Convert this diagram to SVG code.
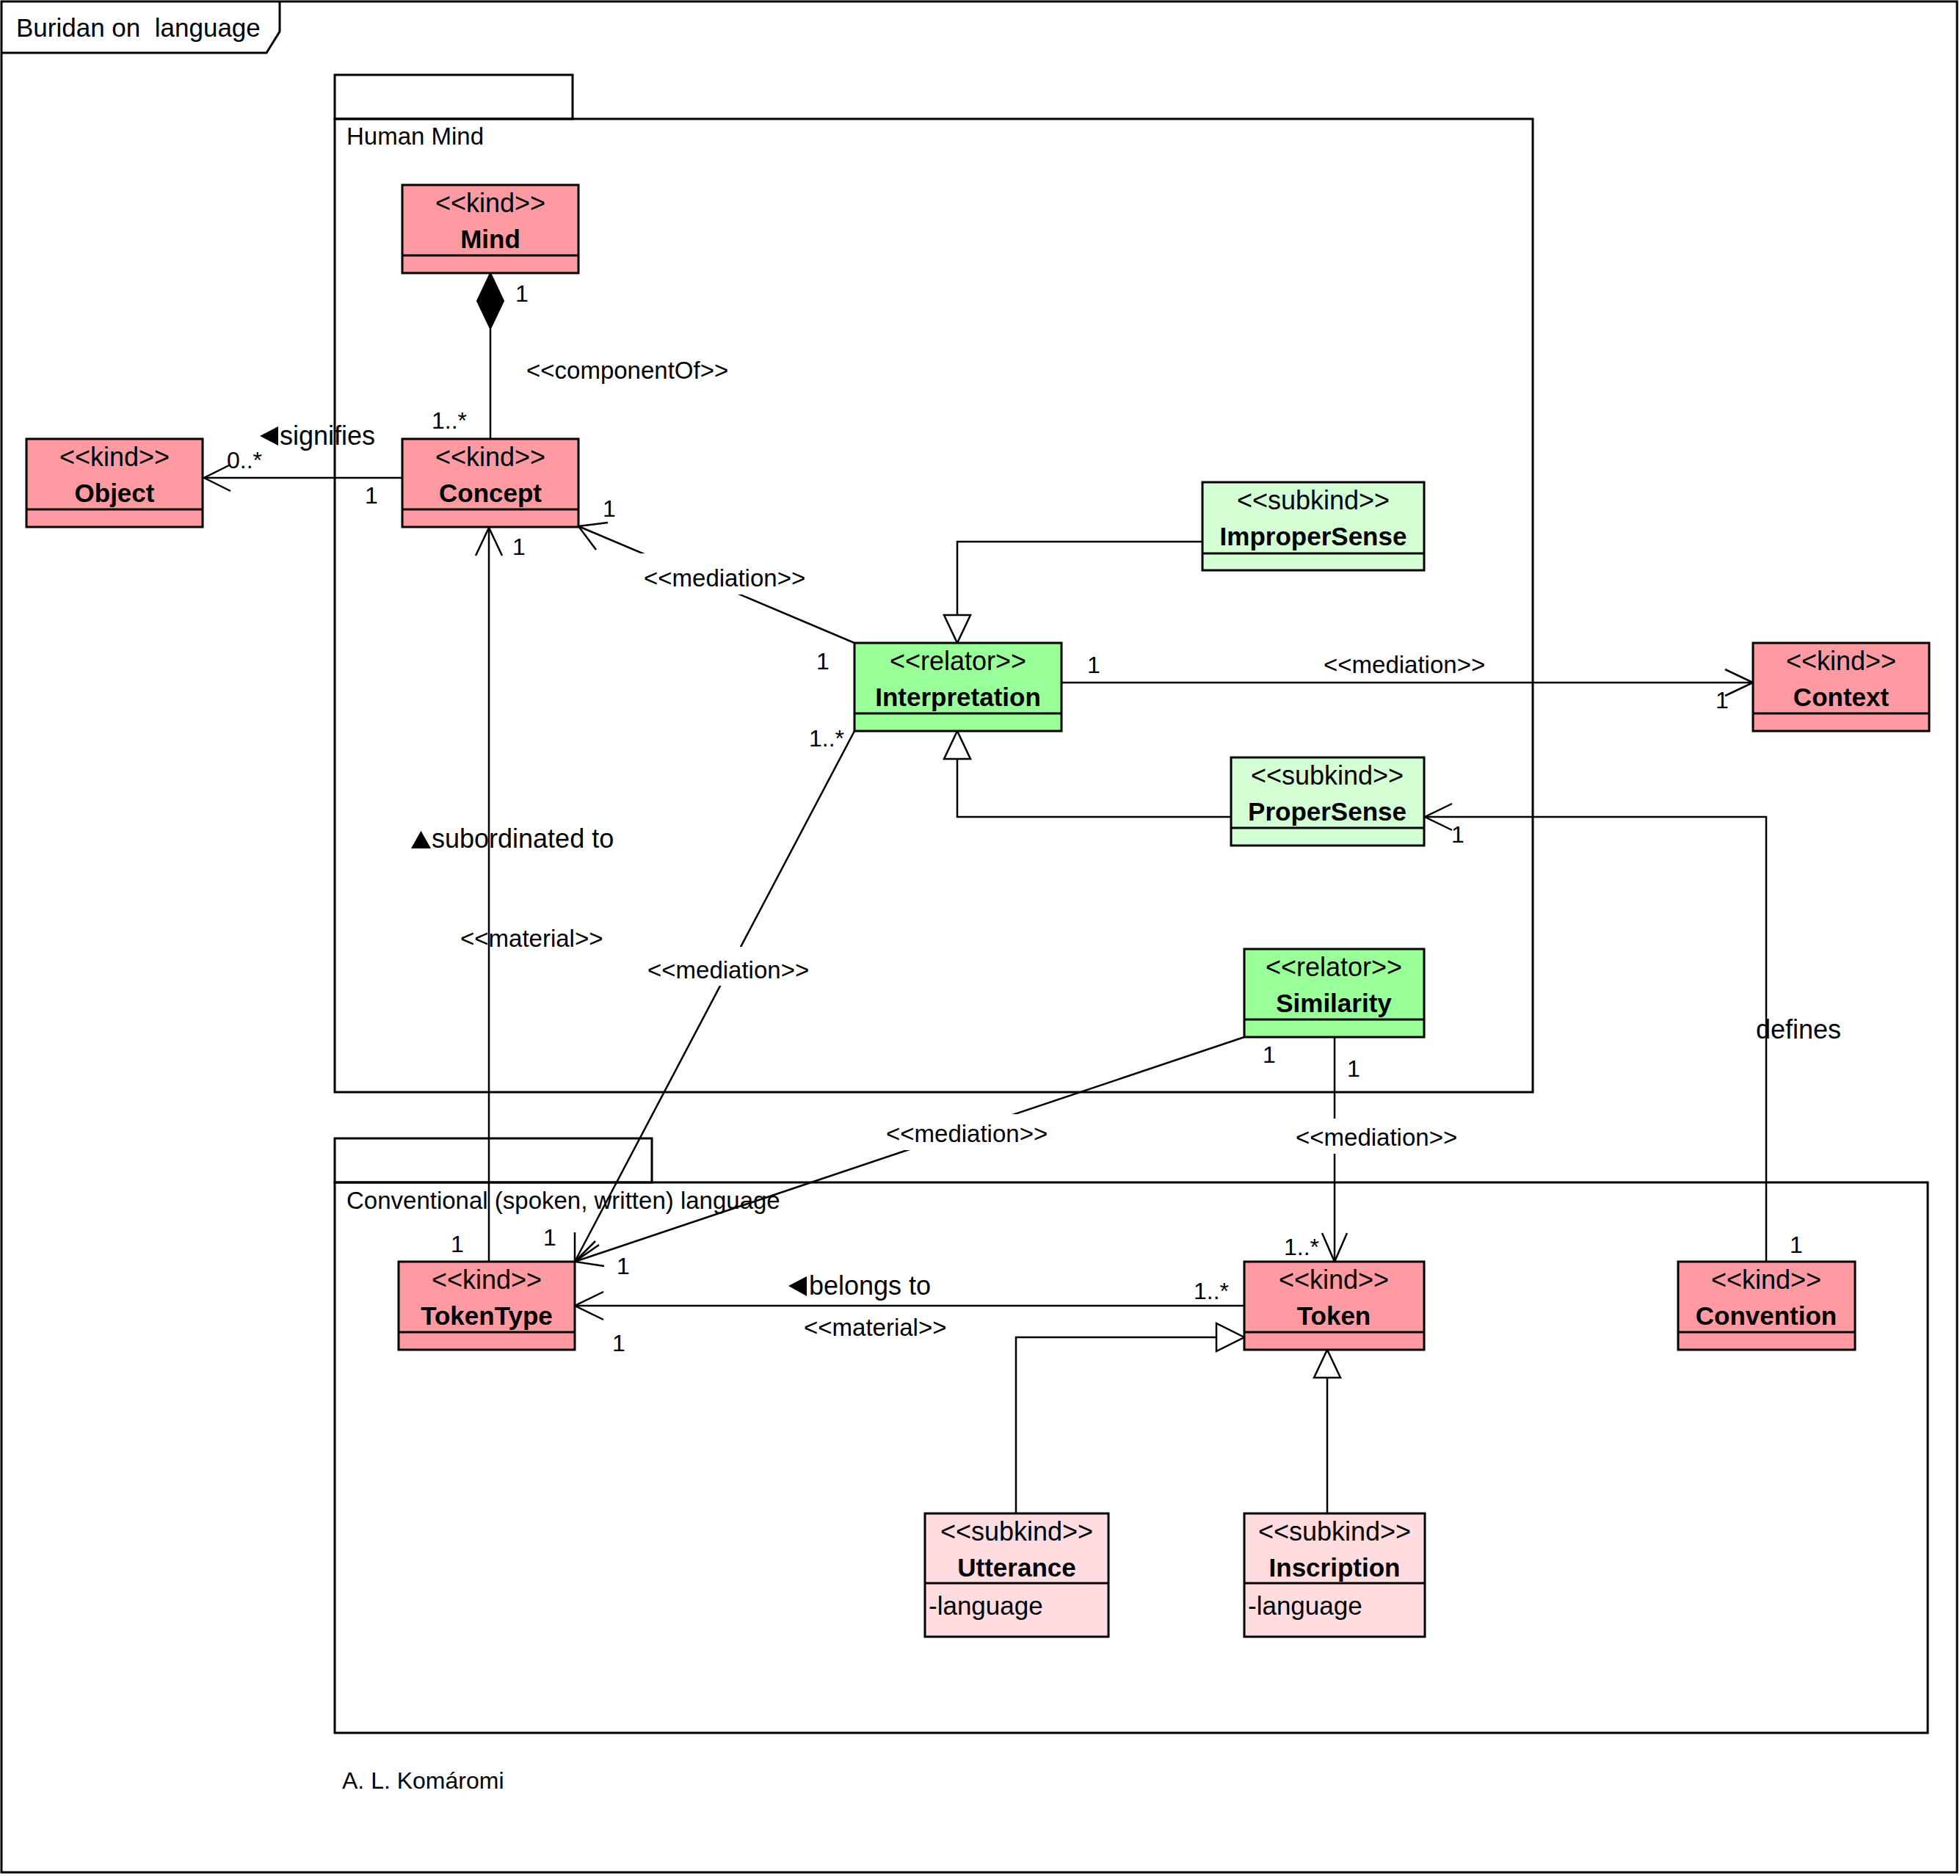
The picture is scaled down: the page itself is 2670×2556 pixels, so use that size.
<svg xmlns="http://www.w3.org/2000/svg" width="2670" height="2556" viewBox="0 0 2670 2556">
<style>
text{font-family:"Liberation Sans",Arial,sans-serif;fill:#000}
.st{font-size:36px;text-anchor:middle}
.nm{font-size:35px;font-weight:bold;text-anchor:middle}
.at{font-size:35px}
.lb{font-size:33px}
.ml{font-size:32px}
.rn{font-size:36px}
.pk{font-size:33px}
.box{stroke:#000;stroke-width:3}
.kind{fill:#FF9AA2}
.rel{fill:#99FF99}
.sg{fill:#D4FFD4}
.sp{fill:#FFDCE0}
.ln{fill:none;stroke:#000;stroke-width:2.5}
.ar{fill:none;stroke:#000;stroke-width:2.5}
.tri{fill:#fff;stroke:#000;stroke-width:2.5}
.frm{fill:none;stroke:#000;stroke-width:3}
</style>
<rect x="0" y="0" width="2670" height="2556" fill="#fff"/>
<g id="frame">
<rect class="frm" x="2" y="2" width="2664" height="2549"/>
<path class="frm" d="M2,72 H363 L381,43 V2"/>
<text x="22" y="50" style="font-size:35px;white-space:pre">Buridan on  language</text>
</g>
<g id="pkg-human-mind">
<rect class="frm" x="456" y="102" width="324" height="60"/>
<rect class="frm" x="456" y="162" width="1632" height="1326"/>
<text class="pk" x="472" y="197">Human Mind</text>
</g>
<g id="pkg-conventional">
<rect class="frm" x="456" y="1551" width="432" height="60"/>
<rect class="frm" x="456" y="1611" width="2170" height="750"/>
<text class="pk" x="472" y="1647">Conventional (spoken, written) language</text>
</g>
<text class="ml" x="466" y="2437">A. L. Komáromi</text>

<g id="connectors">
<!-- Mind-Concept composition -->
<line class="ln" x1="668" y1="448" x2="668" y2="598"/>
<polygon points="668,372 686,410 668,448 650,410" fill="#000" stroke="#000" stroke-width="2"/>
<!-- Concept -> Object signifies -->
<line class="ln" x1="548" y1="651" x2="278" y2="651"/>
<polyline class="ar" points="314,633 278,651 314,669"/>
<!-- Interpretation -> Concept mediation -->
<line class="ln" x1="1164" y1="876" x2="788" y2="717"/>
<polyline class="ar" points="828,712 788,717 812,749"/>
<!-- TokenType -> Concept material -->
<line class="ln" x1="666" y1="1719" x2="666" y2="719"/>
<polyline class="ar" points="648,757 666,719 684,757"/>
<!-- ImproperSense generalization -->
<polyline class="ln" points="1638,738 1304,738 1304,838"/>
<polygon class="tri" points="1286,838 1322,838 1304,876"/>
<!-- ProperSense generalization -->
<polyline class="ln" points="1677,1113 1304,1113 1304,1034"/>
<polygon class="tri" points="1286,1034 1322,1034 1304,996"/>
<!-- Interpretation -> Context -->
<line class="ln" x1="1446" y1="930" x2="2388" y2="930"/>
<polyline class="ar" points="2350,912 2388,930 2350,948"/>
<!-- Interpretation -> TokenType -->
<line class="ln" x1="1164" y1="996" x2="783" y2="1719"/>
<polyline class="ar" points="816,1696 783,1719 783,1679"/>
<!-- Similarity -> TokenType -->
<line class="ln" x1="1695" y1="1413" x2="783" y2="1719"/>
<polyline class="ar" points="823,1725 783,1719 811,1691"/>
<!-- Similarity -> Token -->
<line class="ln" x1="1818" y1="1413" x2="1818" y2="1719"/>
<polyline class="ar" points="1801,1680 1818,1719 1835,1680"/>
<!-- Token -> TokenType -->
<line class="ln" x1="1695" y1="1779" x2="783" y2="1779"/>
<polyline class="ar" points="822,1760 783,1779 822,1798"/>
<!-- Utterance generalization -->
<polyline class="ln" points="1384,2062 1384,1822 1657,1822"/>
<polygon class="tri" points="1657,1803 1657,1841 1695,1822"/>
<!-- Inscription generalization -->
<line class="ln" x1="1808" y1="2062" x2="1808" y2="1877"/>
<polygon class="tri" points="1790,1877 1826,1877 1808,1839"/>
<!-- Convention defines ProperSense -->
<polyline class="ln" points="2406,1719 2406,1113 1941,1113"/>
<polyline class="ar" points="1978,1095 1941,1113 1978,1131"/>

<!-- labels -->
<text class="ml" x="702" y="411">1</text>
<text class="lb" x="717" y="516">&lt;&lt;componentOf&gt;&gt;</text>
<text class="ml" x="588" y="584">1..*</text>
<polygon points="354,594 379,581 379,607" fill="#000"/>
<text class="rn" x="381" y="606">signifies</text>
<text class="ml" x="309" y="638">0..*</text>
<text class="ml" x="497" y="686">1</text>
<text class="ml" x="821" y="704">1</text>
<rect x="873" y="754" width="226" height="56" fill="#fff"/>
<text class="lb" x="877" y="799">&lt;&lt;mediation&gt;&gt;</text>
<text class="ml" x="1112" y="912">1</text>
<text class="ml" x="1481" y="917">1</text>
<text class="lb" x="1803" y="917">&lt;&lt;mediation&gt;&gt;</text>
<text class="ml" x="2337" y="965">1</text>
<text class="ml" x="1102" y="1017">1..*</text>
<polygon points="560,1156 573.5,1132 587,1156" fill="#000"/>
<text class="rn" x="588" y="1155">subordinated to</text>
<text class="lb" x="627" y="1290">&lt;&lt;material&gt;&gt;</text>
<text class="ml" x="698" y="756">1</text>
<rect x="878" y="1290" width="228" height="53" fill="#fff"/>
<text class="lb" x="882" y="1333">&lt;&lt;mediation&gt;&gt;</text>
<rect x="1203" y="1518" width="226" height="49" fill="#fff"/>
<text class="lb" x="1207" y="1556">&lt;&lt;mediation&gt;&gt;</text>
<text class="ml" x="1720" y="1448">1</text>
<text class="ml" x="1835" y="1467">1</text>
<rect x="1761" y="1524" width="226" height="48" fill="#fff"/>
<text class="lb" x="1765" y="1561">&lt;&lt;mediation&gt;&gt;</text>
<text class="ml" x="1749" y="1710">1..*</text>
<text class="ml" x="740" y="1697">1</text>
<text class="ml" x="840" y="1736">1</text>
<text class="ml" x="614" y="1706">1</text>
<polygon points="1074,1752 1099,1739 1099,1766" fill="#000"/>
<text class="rn" x="1102" y="1764">belongs to</text>
<text class="lb" x="1095" y="1820">&lt;&lt;material&gt;&gt;</text>
<text class="ml" x="1626" y="1770">1..*</text>
<text class="ml" x="834" y="1841">1</text>
<text class="ml" x="1977" y="1148">1</text>
<text class="rn" x="2392" y="1415">defines</text>
<text class="ml" x="2438" y="1707">1</text>
</g>

<g id="node-mind">
<rect class="box kind" x="548" y="252" width="240" height="120"/>
<line class="box" x1="548" y1="348" x2="788" y2="348"/>
<text class="st" x="668" y="289">&lt;&lt;kind&gt;&gt;</text>
<text class="nm" x="668" y="338">Mind</text>
</g>
<g id="node-concept">
<rect class="box kind" x="548" y="598" width="240" height="120"/>
<line class="box" x1="548" y1="694" x2="788" y2="694"/>
<text class="st" x="668" y="635">&lt;&lt;kind&gt;&gt;</text>
<text class="nm" x="668" y="684">Concept</text>
</g>
<g id="node-object">
<rect class="box kind" x="36" y="598" width="240" height="120"/>
<line class="box" x1="36" y1="694" x2="276" y2="694"/>
<text class="st" x="156" y="635">&lt;&lt;kind&gt;&gt;</text>
<text class="nm" x="156" y="684">Object</text>
</g>
<g id="node-impropersense">
<rect class="box sg" x="1638" y="657" width="302" height="120"/>
<line class="box" x1="1638" y1="754" x2="1940" y2="754"/>
<text class="st" x="1789" y="694">&lt;&lt;subkind&gt;&gt;</text>
<text class="nm" x="1789" y="743">ImproperSense</text>
</g>
<g id="node-interpretation">
<rect class="box rel" x="1164" y="876" width="282" height="120"/>
<line class="box" x1="1164" y1="972" x2="1446" y2="972"/>
<text class="st" x="1305" y="913">&lt;&lt;relator&gt;&gt;</text>
<text class="nm" x="1305" y="962">Interpretation</text>
</g>
<g id="node-context">
<rect class="box kind" x="2388" y="876" width="240" height="120"/>
<line class="box" x1="2388" y1="972" x2="2628" y2="972"/>
<text class="st" x="2508" y="913">&lt;&lt;kind&gt;&gt;</text>
<text class="nm" x="2508" y="962">Context</text>
</g>
<g id="node-propersense">
<rect class="box sg" x="1677" y="1032" width="263" height="120"/>
<line class="box" x1="1677" y1="1128" x2="1940" y2="1128"/>
<text class="st" x="1808" y="1069">&lt;&lt;subkind&gt;&gt;</text>
<text class="nm" x="1808" y="1118">ProperSense</text>
</g>
<g id="node-similarity">
<rect class="box rel" x="1695" y="1293" width="245" height="120"/>
<line class="box" x1="1695" y1="1389" x2="1940" y2="1389"/>
<text class="st" x="1817" y="1330">&lt;&lt;relator&gt;&gt;</text>
<text class="nm" x="1817" y="1379">Similarity</text>
</g>
<g id="node-tokentype">
<rect class="box kind" x="543" y="1719" width="240" height="120"/>
<line class="box" x1="543" y1="1815" x2="783" y2="1815"/>
<text class="st" x="663" y="1756">&lt;&lt;kind&gt;&gt;</text>
<text class="nm" x="663" y="1805">TokenType</text>
</g>
<g id="node-token">
<rect class="box kind" x="1695" y="1719" width="245" height="120"/>
<line class="box" x1="1695" y1="1815" x2="1940" y2="1815"/>
<text class="st" x="1817" y="1756">&lt;&lt;kind&gt;&gt;</text>
<text class="nm" x="1817" y="1805">Token</text>
</g>
<g id="node-convention">
<rect class="box kind" x="2286" y="1719" width="241" height="120"/>
<line class="box" x1="2286" y1="1815" x2="2527" y2="1815"/>
<text class="st" x="2406" y="1756">&lt;&lt;kind&gt;&gt;</text>
<text class="nm" x="2406" y="1805">Convention</text>
</g>
<g id="node-utterance">
<rect class="box sp" x="1260" y="2062" width="250" height="168"/>
<line class="box" x1="1260" y1="2157" x2="1510" y2="2157"/>
<text class="st" x="1385" y="2099">&lt;&lt;subkind&gt;&gt;</text>
<text class="nm" x="1385" y="2148">Utterance</text>
<text class="at" x="1265" y="2200">-language</text>
</g>
<g id="node-inscription">
<rect class="box sp" x="1695" y="2062" width="246" height="168"/>
<line class="box" x1="1695" y1="2157" x2="1941" y2="2157"/>
<text class="st" x="1818" y="2099">&lt;&lt;subkind&gt;&gt;</text>
<text class="nm" x="1818" y="2148">Inscription</text>
<text class="at" x="1700" y="2200">-language</text>
</g>
</svg>
